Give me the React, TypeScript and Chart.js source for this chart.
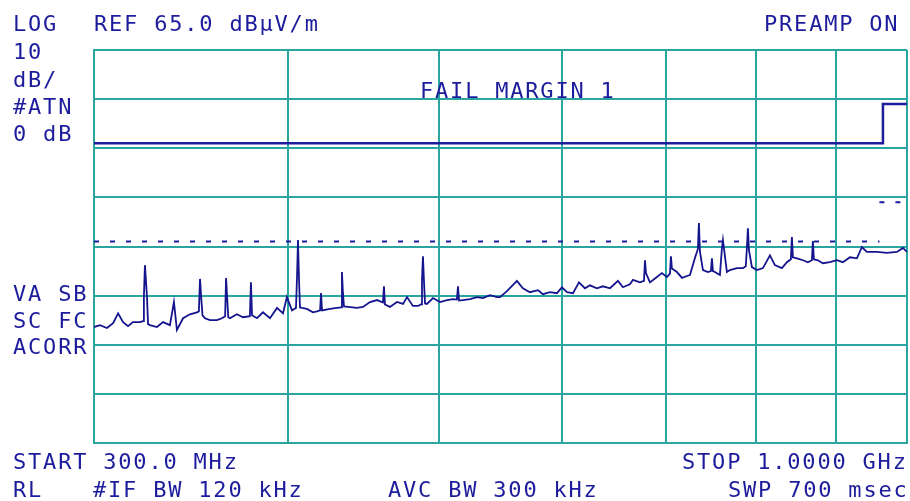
import React, { useEffect, useRef } from "react";
import { Chart, registerables } from "chart.js";

Chart.register(...registerables);

// ---- Data (frequency in MHz, level in dBµV/m) ----
const traceFreqMHz = [
  300.0, 302.7, 305.8, 308.6, 310.9, 313.2, 315.5, 317.8, 321.1, 322.6,
  323.0, 323.5, 324.5, 325.0, 325.9, 329.3, 332.3, 335.7, 337.7, 339.2,
  342.3, 345.8, 349.4, 350.4, 351.0, 351.6, 352.3, 353.6, 356.2, 359.9,
  362.6, 364.3, 364.8, 365.4, 366.0, 366.9, 370.7, 374.1, 377.9, 378.5,
  379.1, 381.9, 385.3, 389.3, 393.4, 396.9, 399.2, 402.2, 404.6, 405.2,
  405.8, 406.4, 407.0, 408.2, 411.2, 414.9, 417.4, 419.3, 419.9, 420.5,
  421.1, 425.5, 429.9, 432.5, 433.1, 433.7, 434.4, 437.0, 442.8, 446.8,
  451.5, 456.2, 460.2, 460.9, 461.6, 465.0, 469.9, 474.1, 476.9, 481.1,
  484.7, 486.9, 487.6, 488.3, 489.0, 489.8, 491.2, 495.6, 500.8, 506.0,
  510.5, 513.5, 514.3, 515.1, 518.1, 523.5, 529.0, 533.7, 539.2, 544.9,
  547.3, 553.0, 561.2, 566.2, 572.1, 579.0, 583.3, 589.3, 595.5, 599.9,
  604.4, 609.8, 615.2, 620.7, 625.3, 631.8, 637.4, 644.1, 651.8, 656.6,
  663.4, 666.4, 673.3, 677.4, 678.4, 679.4, 683.4, 690.5, 695.6, 700.8,
  704.0, 705.0, 706.0, 711.3, 716.6, 721.9, 725.1, 730.4, 733.7, 734.8,
  735.9, 739.2, 744.7, 748.0, 749.1, 750.2, 752.4, 758.0, 760.3, 761.4,
  762.5, 765.9, 769.3, 777.3, 784.3, 787.6, 788.8, 790.1, 791.3, 794.8,
  800.7, 807.9, 816.3, 822.3, 830.9, 837.1, 842.0, 843.3, 844.5, 849.6,
  857.2, 863.5, 868.6, 869.9, 871.2, 876.4, 882.9, 892.1, 901.4, 909.5,
  918.9, 928.5, 935.4, 942.3, 956.4, 970.7, 985.2, 994.0, 1000.0,
];

const traceLevelDb = [
  8.6, 9.0, 8.4, 9.4, 11.4, 9.6, 8.8, 9.6, 9.6, 9.8,
  14.7, 21.2, 14.7, 9.2, 9.0, 8.6, 9.6, 9.0, 13.7, 8.0,
  10.4, 11.2, 11.6, 11.8, 18.4, 14.7, 11.0, 10.4, 10.0, 10.0,
  10.4, 10.8, 18.6, 14.6, 10.6, 10.4, 11.2, 10.6, 10.8, 17.7,
  11.0, 10.4, 11.6, 10.4, 12.5, 11.4, 14.7, 12.0, 12.5, 18.6,
  26.3, 18.6, 12.6, 12.5, 12.3, 11.6, 11.8, 12.0, 15.5, 12.0,
  12.0, 12.3, 12.5, 12.6, 19.8, 15.7, 12.8, 12.7, 12.5, 12.7,
  13.7, 14.1, 13.6, 16.9, 13.2, 12.7, 13.7, 13.3, 14.7, 12.9,
  12.9, 13.2, 18.2, 23.0, 18.2, 13.4, 13.3, 14.5, 13.7, 14.1,
  14.3, 14.2, 16.9, 14.0, 14.1, 14.3, 14.7, 14.5, 15.1, 14.7,
  14.7, 15.9, 18.0, 16.5, 15.7, 16.1, 15.3, 15.7, 15.5, 16.7,
  15.7, 15.5, 17.7, 16.5, 17.1, 16.5, 16.9, 16.5, 18.0, 16.7,
  17.3, 18.2, 17.7, 18.0, 22.2, 19.6, 17.7, 18.8, 19.6, 18.8,
  19.5, 23.0, 20.5, 19.8, 18.6, 19.0, 19.2, 22.6, 24.5, 29.8,
  24.0, 20.2, 19.8, 20.0, 22.6, 20.0, 19.8, 19.2, 24.7, 26.3,
  24.7, 19.8, 20.2, 20.6, 20.6, 21.0, 24.3, 28.7, 24.3, 20.8,
  20.2, 20.6, 23.2, 21.2, 20.6, 21.8, 22.4, 26.9, 22.8, 22.6,
  22.2, 21.8, 22.2, 26.1, 22.4, 22.2, 21.6, 21.8, 22.2, 21.8,
  22.8, 22.6, 24.9, 23.9, 23.9, 23.7, 23.9, 24.7, 23.9,
];

const limitFreqMHz = [300, 965, 965, 1000];
const limitLevelDb = [46, 46, 54, 54];

const marginFreqMHz = [300, 960, 960, 960, 1000];
const marginLevelDb: (number | null)[] = [26, 26, null, 34, 34];

const xGridMHz = [300, 400, 500, 600, 700, 800, 900, 1000];
const yMinDb = -15;
const yMaxDb = 65;
const yStepDb = 10;

// ---- Annotation text (screen positions) ----
const annotations = [
  { text: "LOG", x: 13, y: 31 },
  { text: "REF 65.0 dBµV/m", x: 94, y: 31 },
  { text: "PREAMP ON", x: 764, y: 31 },
  { text: "10", x: 13, y: 59 },
  { text: "dB/", x: 13, y: 87 },
  { text: "#ATN", x: 13, y: 114 },
  { text: "0 dB", x: 13, y: 141 },
  { text: "FAIL MARGIN 1", x: 420, y: 98 },
  { text: "VA SB", x: 13, y: 301 },
  { text: "SC FC", x: 13, y: 328 },
  { text: "ACORR", x: 13, y: 354 },
  { text: "START 300.0 MHz", x: 13, y: 469 },
  { text: "STOP 1.0000 GHz", x: 682, y: 469 },
  { text: "RL", x: 13, y: 497 },
  { text: "#IF BW 120 kHz", x: 93, y: 497 },
  { text: "AVC BW 300 kHz", x: 388, y: 497 },
  { text: "SWP 700 msec", x: 728, y: 497 },
];

const NAVY = "#1c1c9c";
const TRACE = "#14148e";
const TEAL = "#2aa59f";

const textPlugin = {
  id: "hpText",
  afterDraw(chart: any) {
    const ctx = chart.ctx as CanvasRenderingContext2D;
    ctx.save();
    ctx.fillStyle = NAVY;
    ctx.font = '22px "DejaVu Sans Mono"';
    (ctx as any).letterSpacing = "1.8px";
    ctx.textBaseline = "alphabetic";
    ctx.textAlign = "left";
    for (const a of annotations) {
      ctx.fillText(a.text, a.x, a.y);
    }
    ctx.restore();
  },
};

export default function App() {
  const canvasRef = useRef<HTMLCanvasElement | null>(null);

  useEffect(() => {
    const canvas = canvasRef.current;
    if (!canvas) return;
    const trace = traceFreqMHz.map((f, i) => ({ x: f, y: traceLevelDb[i] }));
    const limit = limitFreqMHz.map((f, i) => ({ x: f, y: limitLevelDb[i] }));
    const margin = marginFreqMHz.map((f, i) => ({ x: f, y: marginLevelDb[i] }));

    const chart = new Chart(canvas, {
      type: "line",
      data: {
        datasets: [
          {
            label: "Limit",
            data: limit,
            borderColor: NAVY,
            borderWidth: 2.5,
            pointRadius: 0,
            tension: 0,
          },
          {
            label: "Margin",
            data: margin as any,
            borderColor: NAVY,
            borderWidth: 2,
            borderDash: [5, 11],
            pointRadius: 0,
            tension: 0,
            spanGaps: false,
          },
          {
            label: "Trace",
            data: trace,
            borderColor: TRACE,
            borderWidth: 1.8,
            pointRadius: 0,
            tension: 0,
          },
        ],
      },
      options: {
        responsive: false,
        animation: false,
        events: [],
        layout: { padding: { left: 94, right: 3, top: 50, bottom: 58 } },
        plugins: {
          legend: { display: false },
          tooltip: { enabled: false },
          title: { display: false },
        },
        scales: {
          x: {
            type: "logarithmic",
            min: 300,
            max: 1000,
            ticks: { display: false },
            grid: { color: TEAL, lineWidth: 2, drawTicks: false },
            border: { display: true, color: TEAL, width: 2 },
            afterBuildTicks: (axis: any) => {
              axis.ticks = xGridMHz.map((v) => ({ value: v }));
            },
          },
          y: {
            type: "linear",
            min: yMinDb,
            max: yMaxDb,
            ticks: { display: false, stepSize: yStepDb },
            grid: { color: TEAL, lineWidth: 2, drawTicks: false },
            border: { display: true, color: TEAL, width: 2 },
          },
        },
      },
      plugins: [textPlugin],
    });
    return () => chart.destroy();
  }, []);

  return (
    <div style={{ position: "fixed", left: 0, top: 0, width: 910, height: 501, background: "#ffffff" }}>
      <canvas ref={canvasRef} width={910} height={501} style={{ display: "block" }} />
    </div>
  );
}
